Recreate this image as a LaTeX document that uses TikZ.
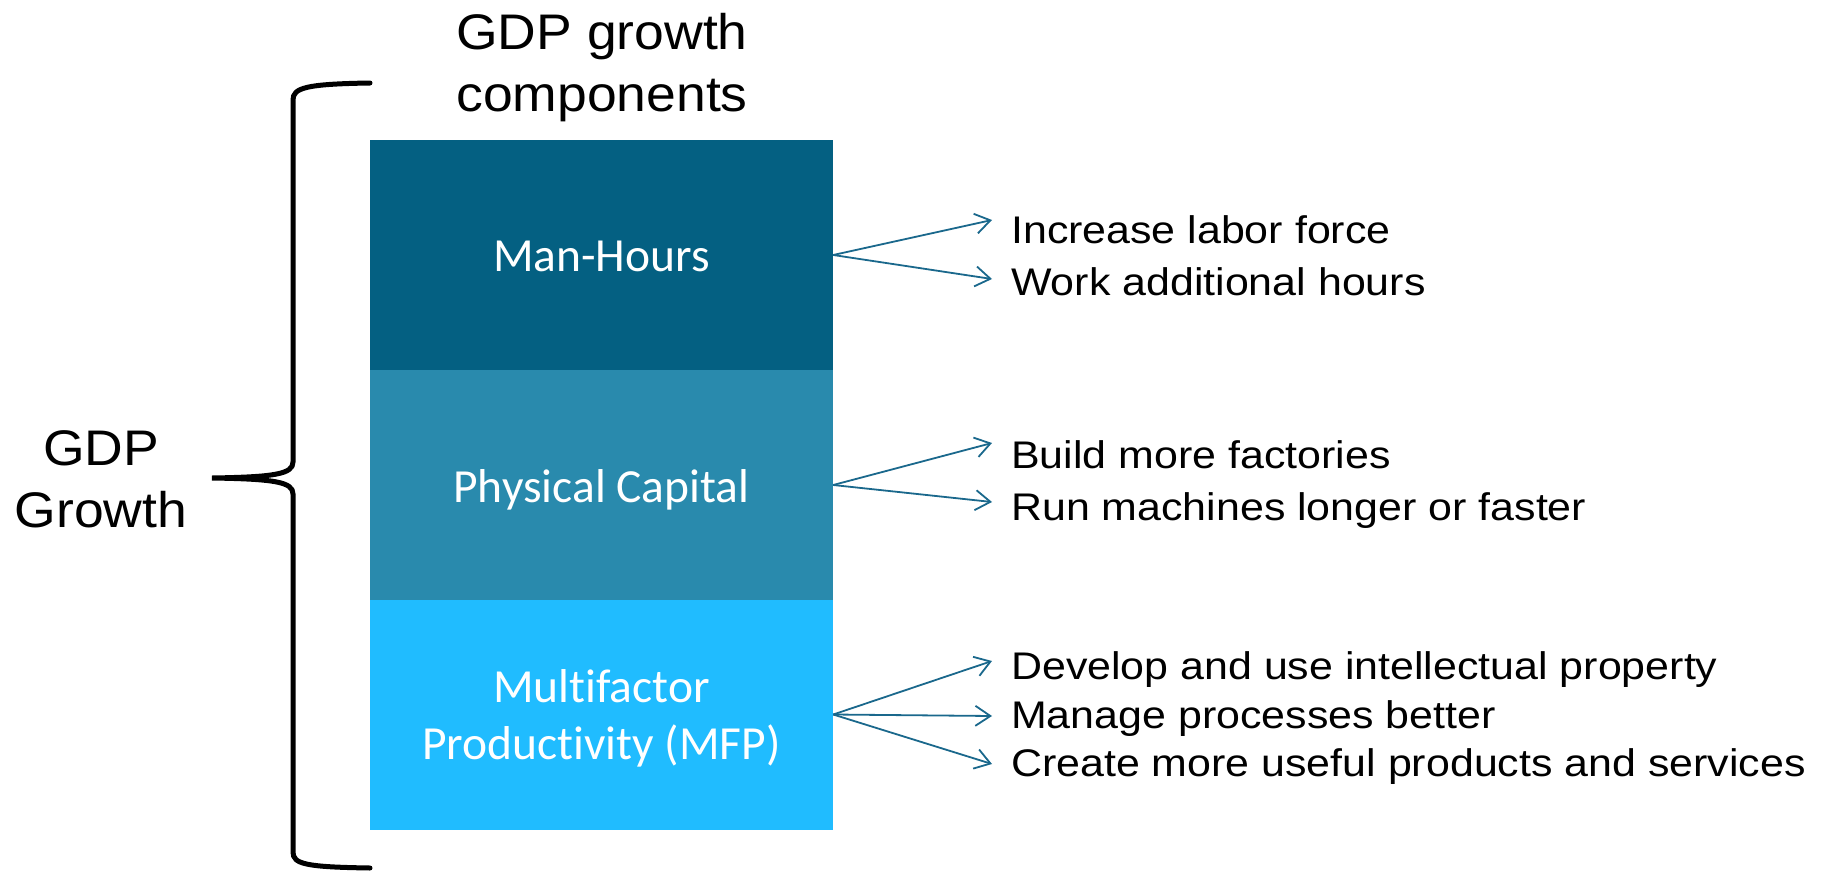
\documentclass[tikz,border=0pt]{standalone}
\usepackage{fontspec}
\setmainfont{Liberation Sans}
\newfontfamily\boxfont[Ligatures=NoCommon]{Carlito}
\usetikzlibrary{arrows.meta}
\definecolor{mhblue}{RGB}{4,96,130}
\definecolor{pcblue}{RGB}{41,138,173}
\definecolor{mfpblue}{RGB}{32,188,255}
\definecolor{arrowblue}{RGB}{26,104,140}
\newcommand\hstretch[2]{\scalebox{#1}[1]{#2}}
\begin{document}
\begin{tikzpicture}[x=1pt,y=-1pt,
  component/.style={rectangle,draw=none,inner sep=0pt,minimum width=463pt,minimum height=230pt},
  boxlabel/.style={anchor=base,inner sep=0pt,text=white,font=\boxfont\fontsize{47.5}{56}\selectfont},
  heading/.style={align=center,inner sep=0pt,font=\fontsize{50}{62}\selectfont},
  effect/.style={anchor=base west,inner sep=0pt,font=\fontsize{38.5}{46}\selectfont},
  lever/.style={draw=arrowblue,line width=1.8pt,-{Straight Barb[length=15pt,width=20pt,line width=1.8pt]}}
]
\useasboundingbox (0,0) rectangle (1826,875);

% stacked growth components
\node[component,fill=mhblue]  (mh)  at (601.5,255)   {};
\node[component,fill=pcblue]  (pc)  at (601.5,485)   {};
\node[component,fill=mfpblue] (mfp) at (601.5,714.5) {};

\node[boxlabel] (mhlab)   at (601.5,271) {Man-Hours};
\node[boxlabel] (pclab)   at (601.5,502) {Physical Capital};
\node[boxlabel] (mfplab1) at (601.5,702) {Multifactor};
\node[boxlabel] (mfplab2) at (601.5,759) {Productivity (MFP)};

% headings
\node[heading] (comp) at (602,68) {\hstretch{1.07}{GDP growth}\\\hstretch{1.07}{components}};
\node[heading] (gdp)  at (101,479) {\hstretch{1.07}{GDP}\\\hstretch{1.07}{Growth}};

% curly brace spanning the stack
\draw[line width=5pt,line cap=round]
  (370,83) .. controls (305,84) and (293,88) .. (293,100)
  -- (293,462) .. controls (293,474) and (275,477) .. (212,478)
  .. controls (275,479) and (293,482) .. (293,494)
  -- (293,852) .. controls (293,864) and (305,867) .. (370,868);

% ways to grow each component
\node[effect] (e1) at (1011,243) {\hstretch{1.115}{Increase labor force}};
\node[effect] (e2) at (1011,295) {\hstretch{1.115}{Work additional hours}};
\node[effect] (e3) at (1011,468) {\hstretch{1.115}{Build more factories}};
\node[effect] (e4) at (1011,520) {\hstretch{1.115}{Run machines longer or faster}};
\node[effect] (e5) at (1011,679) {\hstretch{1.115}{Develop and use intellectual property}};
\node[effect] (e6) at (1011,728) {\hstretch{1.115}{Manage processes better}};
\node[effect] (e7) at (1011,776) {\hstretch{1.115}{Create more useful products and services}};

\coordinate (t1) at (992,220);
\coordinate (t2) at (992,279);
\coordinate (t3) at (992,443);
\coordinate (t4) at (992,502);
\coordinate (t5) at (992,661);
\coordinate (t6) at (992,716);
\coordinate (t7) at (992,764);

\draw[lever] (mh.east)  -- (t1);
\draw[lever] (mh.east)  -- (t2);
\draw[lever] (pc.east)  -- (t3);
\draw[lever] (pc.east)  -- (t4);
\draw[lever] (mfp.east) -- (t5);
\draw[lever] (mfp.east) -- (t6);
\draw[lever] (mfp.east) -- (t7);
\end{tikzpicture}
\end{document}
